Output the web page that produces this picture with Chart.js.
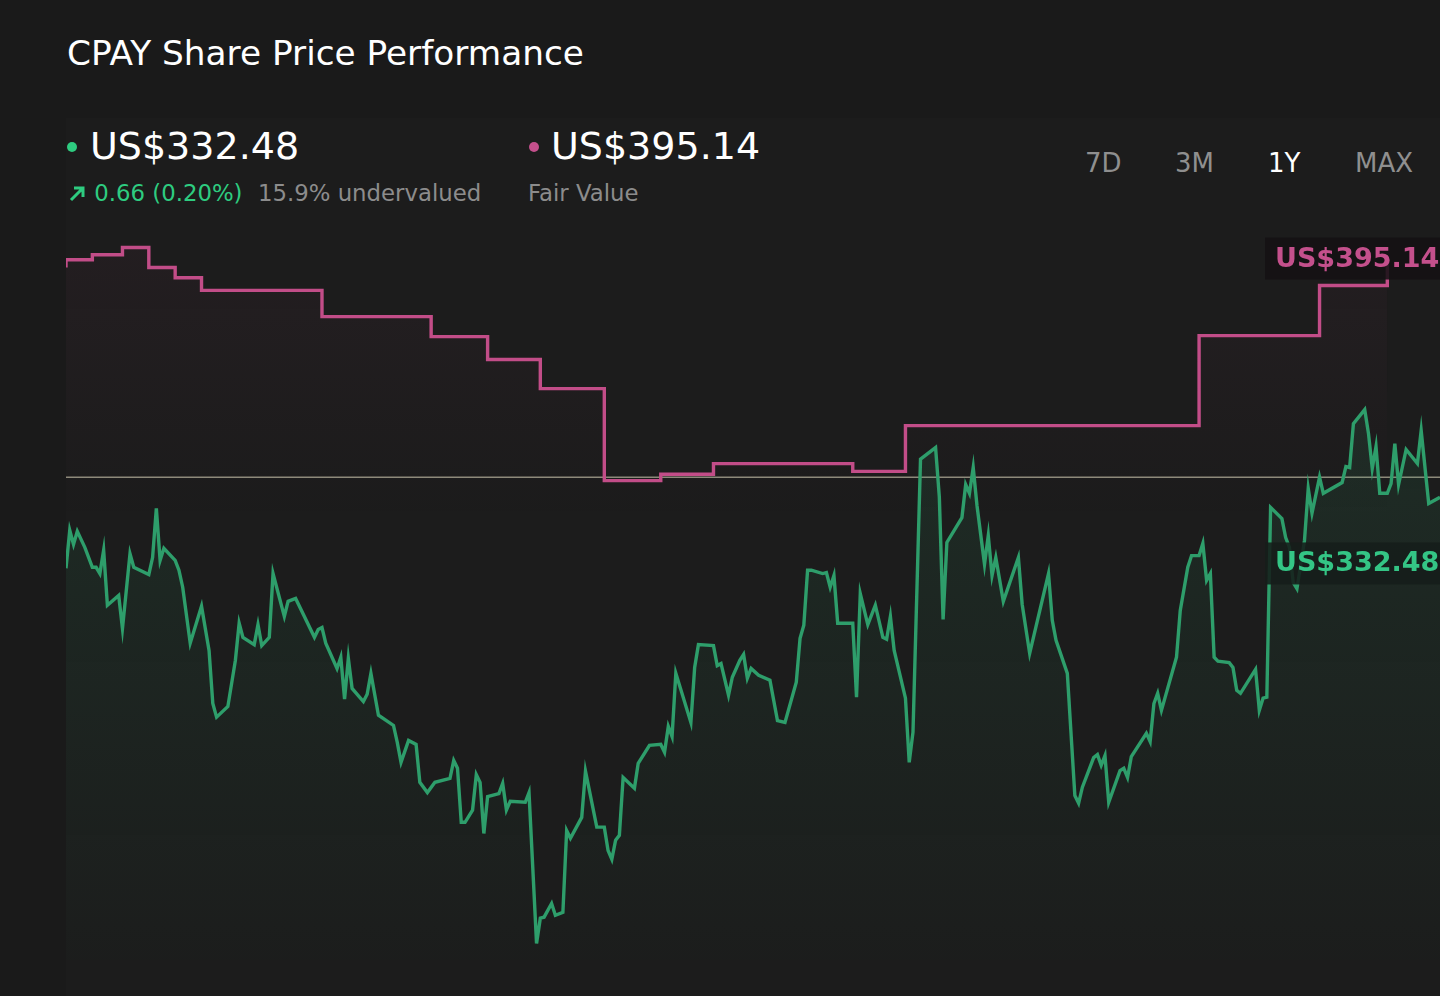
<!DOCTYPE html>
<html>
<head>
<meta charset="utf-8">
<title>CPAY Share Price Performance</title>
<script src="https://cdn.jsdelivr.net/npm/chart.js@4.4.1/dist/chart.umd.min.js"></script>
<style>
  html, body { margin: 0; padding: 0; }
  body {
    width: 1440px; height: 996px; overflow: hidden; position: relative;
    background: #1a1a1a; font-family: "DejaVu Sans", sans-serif; color: #fff;
  }
  .abs { position: absolute; line-height: 1; white-space: nowrap; }
  #panel { position: absolute; left: 66px; top: 118px; right: 0; bottom: 0; background: #1c1c1c; }
  #title { left: 67px; top: 36px; font-size: 34.3px; }
  .big { top: 127px; font-size: 38px; }
  .dot { position: absolute; width: 10px; height: 10px; border-radius: 50%; top: 142px; }
  .sub { top: 182px; font-size: 22.8px; color: #8c8c8c; }
  .green { color: #2ecc80; }
  .range { top: 150px; font-size: 26px; color: #8f8f8f; }
  .range.on { color: #fff; }
  #chartBox { position: absolute; left: 66px; top: 230px; width: 1374px; height: 730px; }
</style>
</head>
<body>
<div id="panel"></div>
<div id="title" class="abs">CPAY Share Price Performance</div>

<div class="dot" style="left:67px; background:#2ecc80;"></div>
<div class="abs big" style="left:90px;">US$332.48</div>
<div class="abs sub green" style="left:68px;"><svg width="19" height="17" viewBox="0 0 19 17" style="vertical-align:-1px"><path d="M3 15 L15 3 M6 3 H15 V12" stroke="#2ecc80" stroke-width="3" fill="none"/></svg> 0.66 (0.20%)</div>
<div class="abs sub" style="left:258px;">15.9% undervalued</div>

<div class="dot" style="left:529px; background:#c4508c;"></div>
<div class="abs big" style="left:551px;">US$395.14</div>
<div class="abs sub" style="left:528px;">Fair Value</div>

<div class="abs range" style="left:1085px;">7D</div>
<div class="abs range" style="left:1175px;">3M</div>
<div class="abs range on" style="left:1268px;">1Y</div>
<div class="abs range" style="left:1355px;">MAX</div>

<div id="chartBox"><canvas id="priceChart"></canvas></div>

<script>
// share price, by calendar day of the 1Y window
const priceDays = [0,1,2,3,5,7,8,9,10,11,14,15,17,18,22,23,24,25,26,29,30,31,33,36,38,39,40,43,45,46,47,50,51,52,54,55,58,59,61,66,67,68,69,72,73,74,75,76,79,80,81,83,87,88,89,91,93,94,96,98,102,103,104,105,106,108,109,110,111,112,115,116,117,118,122,123,125,126,127,129,130,132,133,134,137,138,141,143,144,145,146,147,148,151,152,155,158,159,160,161,162,166,167,168,172,173,174,176,177,179,180,181,182,184,187,189,191,194,195,196,197,198,201,202,203,204,205,209,210,211,213,215,217,218,219,220,223,224,225,227,231,232,233,234,238,239,240,241,242,244,245,246,247,249,253,254,256,261,262,263,266,268,269,270,273,274,275,276,277,280,281,282,283,287,288,289,290,291,295,296,298,299,301,302,303,304,305,306,309,310,311,312,316,317,318,319,320,323,324,325,326,327,329,330,331,333,334,339,340,341,342,345,346,347,348,349,351,352,353,354,356,359,360,362,365];
const priceValues = [331.5,339.3,336.4,339.1,335.8,331.7,331.7,330.4,335.2,323.9,325.9,319.1,334.5,331.7,330.2,333.7,343.8,333.1,335.6,333.1,331.1,327.6,316.1,323.7,314.6,303.7,300.9,303.1,312.6,320.2,317.3,315.8,319.9,315.6,317.3,330.4,321.6,324.7,325.3,317.3,318.9,319.3,316.1,310.9,313.2,304.6,313.0,306.8,304.1,305.6,309.9,301.3,299.2,295.7,291.6,296.1,295.3,287.5,285.4,287.5,288.3,292.0,290.4,279.3,279.3,281.8,289.1,287.5,277.0,284.6,285.2,287.3,281.8,283.6,283.4,285.4,254.4,259.6,259.8,262.6,260.2,260.8,277.6,276.0,280.3,289.8,278.3,278.3,273.5,271.7,275.6,276.6,288.5,286.3,291.4,295.1,295.3,293.7,299.0,296.9,309.9,299.8,311.1,315.8,315.6,311.5,311.9,305.4,309.1,312.6,313.8,308.9,310.9,309.5,308.5,300.2,299.8,308.1,317.1,319.8,331.1,331.1,330.4,330.6,327.6,330.0,320.2,320.2,305.0,326.3,319.9,323.9,317.3,316.9,321.6,314.6,304.8,291.6,297.8,353.9,356.3,346.1,321.0,336.8,341.9,348.7,346.9,352.2,344.4,332.3,338.2,330.0,333.7,324.7,333.7,324.1,314.0,330.4,320.8,316.7,309.9,284.8,283.2,286.5,292.6,293.2,291.0,293.0,283.4,289.9,290.4,288.5,292.8,297.6,295.9,303.7,305.8,302.3,313.2,322.8,331.7,334.1,334.1,336.6,329.0,330.4,313.2,312.4,312.1,311.1,306.4,305.8,310.7,302.3,304.8,305.0,344.0,341.7,337.8,335.8,328.6,327.3,337.2,347.9,342.8,350.2,346.9,349.1,352.4,352.2,361.2,364.1,359.2,352.0,356.5,346.9,346.9,348.9,357.1,348.7,355.9,353.0,359.8,344.8,346.1];

// fair value estimate, changes on these days
const fairDays = [0,0,7,15,22,29,36,68,97,112,126,143,158,172,209,223,301,333,351];
const fairValues = [393.3,394.9,395.9,397.4,393.3,391.2,388.6,383.2,379.1,374.4,368.4,349.5,350.8,353.0,351.4,360.8,379.3,389.6,395.14];

const refLevel = 350.2;
const lastPrice = 332.48;
const fairValue = 395.14;
const dayRange = [0, 365];
const valueRange = [251, 401];

const GREEN = '#2e9e6b';
const PINK = '#c24d88';

function toPoints(xs, ys) {
  return xs.map((x, i) => ({ x: x, y: ys[i] }));
}

// vertical fade: alpha `top` at the top of the plot, 0 from `stop` downwards
function fadeFill(rgb, top, bottom, stop) {
  return function(context) {
    const area = context.chart.chartArea;
    if (!area) return 'transparent';
    const g = context.chart.ctx.createLinearGradient(0, area.top, 0, area.bottom);
    g.addColorStop(0, 'rgba(' + rgb + ',' + top + ')');
    g.addColorStop(stop, 'rgba(' + rgb + ',' + bottom + ')');
    g.addColorStop(1, 'rgba(' + rgb + ',' + bottom + ')');
    return g;
  };
}

// value tags on the right edge
const endLabels = {
  id: 'endLabels',
  afterDatasetsDraw(chart) {
    const ctx = chart.ctx;
    const y = chart.scales.y;
    const right = chart.chartArea.right;
    const tags = [
      { value: fairValue, text: 'US$' + fairValue.toFixed(2), color: '#c4508c', bg: 'rgba(20,17,19,0.88)' },
      { value: lastPrice, text: 'US$' + lastPrice.toFixed(2), color: '#34c585', bg: 'rgba(22,30,26,0.88)' }
    ];
    ctx.save();
    ctx.font = 'bold 27px "DejaVu Sans"';
    ctx.textBaseline = 'middle';
    tags.forEach(t => {
      const py = y.getPixelForValue(t.value);
      ctx.fillStyle = t.bg;
      ctx.fillRect(right - 175, py - 21, 180, 42);
      ctx.fillStyle = t.color;
      ctx.fillText(t.text, right - 165, py + 1);
    });
    ctx.restore();
  }
};

new Chart(document.getElementById('priceChart'), {
  type: 'line',
  data: {
    datasets: [
      {
        label: 'Share Price',
        data: toPoints(priceDays, priceValues),
        borderColor: GREEN,
        borderWidth: 3.4,
        fill: 'start',
        backgroundColor: fadeFill('46,160,105', 0.16, 0.01, 1)
      },
      {
        label: 'Fair Value',
        data: toPoints(fairDays, fairValues),
        borderColor: PINK,
        borderWidth: 3.4,
        stepped: true,
        fill: 'start',
        backgroundColor: fadeFill('194,77,136', 0.05, 0, 0.4)
      },
      {
        label: 'Reference',
        data: toPoints(dayRange, [refLevel, refLevel]),
        borderColor: '#8d8a7b',
        borderWidth: 1.5,
        fill: false
      }
    ]
  },
  options: {
    responsive: true,
    maintainAspectRatio: false,
    animation: false,
    layout: { padding: 0 },
    elements: { point: { radius: 0 }, line: { tension: 0 } },
    plugins: { legend: { display: false }, tooltip: { enabled: false } },
    scales: {
      x: { type: 'linear', min: dayRange[0], max: dayRange[1], display: false },
      y: { min: valueRange[0], max: valueRange[1], display: false }
    }
  },
  plugins: [endLabels]
});
</script>
</body>
</html>
